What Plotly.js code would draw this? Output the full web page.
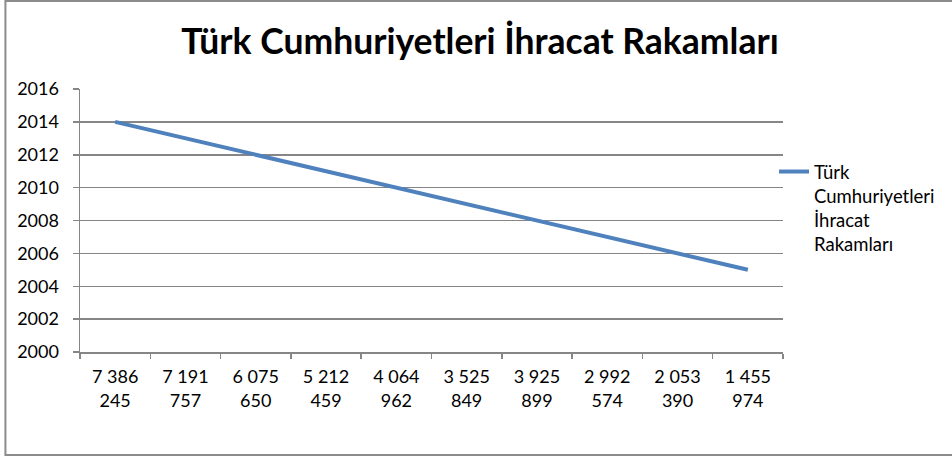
<!DOCTYPE html>
<html>
<head>
<meta charset="utf-8">
<script src="https://cdn.plot.ly/plotly-3.0.1.min.js"></script>
<style>html,body{margin:0;padding:0;background:#fff;}#chart{width:952px;height:457px;}</style>
</head>
<body>
<div id="chart"></div>
<script>
const categories = ["7 386 245","7 191 757","6 075 650","5 212 459","4 064 962","3 525 849","3 925 899","2 992 574","2 053 390","1 455 974"];
const tickLabels = ["7 386<br>245","7 191<br>757","6 075<br>650","5 212<br>459","4 064<br>962","3 525<br>849","3 925<br>899","2 992<br>574","2 053<br>390","1 455<br>974"];
const years = [2014,2013,2012,2011,2010,2009,2008,2007,2006,2005];
const seriesName = "Türk<br>Cumhuriyetleri<br>İhracat<br>Rakamları";
const titleText = "Türk Cumhuriyetleri İhracat Rakamları";

const FONT = "Lato, 'Open Sans', sans-serif";
const L = 80, R = 787, T = 89, B = 352, W = 952, H = 457;
const pw = R - L, ph = B - T;

const trace = {
  type: "scatter", mode: "lines",
  x: categories, y: years,
  name: seriesName,
  line: {color: "#4F81BD", width: 4},
  showlegend: true
};

const layout = {
  width: W, height: H,
  margin: {l: L, r: W - R, t: T, b: H - B, pad: 0},
  paper_bgcolor: "#fff", plot_bgcolor: "#fff",
  font: {family: FONT, color: "#000", size: 18},
  title: {text: "<b>" + titleText + "</b>", font: {family: FONT, size: 35.5, color: "#000"},
          x: 480 / W, xanchor: "center", y: 1 - 42 / H, yanchor: "middle"},
  xaxis: {
    type: "category", tickmode: "array", tickvals: categories, ticktext: tickLabels,
    tickson: "boundaries", ticks: "outside", ticklen: 5, tickcolor: "#868686", tickwidth: 1.5,
    showline: true, linecolor: "#868686", linewidth: 1.5, showgrid: false,
    tickfont: {family: FONT, size: 18, color: "#000"},
    ticklabelstandoff: 8,
    range: [-0.5, 9.5], fixedrange: true, automargin: false
  },
  yaxis: {
    range: [2000, 2016], dtick: 2, tick0: 2000,
    ticks: "outside", ticklen: 6, tickcolor: "#868686", tickwidth: 1.5,
    showline: true, linecolor: "#868686", linewidth: 1.5,
    showgrid: true, gridcolor: "#868686", gridwidth: 1.5, zeroline: false,
    tickfont: {family: FONT, size: 18, color: "#000"},
    ticklabelstandoff: 10,
    tickformat: "d", fixedrange: true, automargin: false
  },
  legend: {
    x: (778 - L) / pw, xanchor: "left",
    y: (B - 153) / ph, yanchor: "top",
    valign: "top",
    font: {family: FONT, size: 18.5, color: "#000"},
    bgcolor: "rgba(0,0,0,0)", borderwidth: 0
  },
  shapes: [{
    type: "rect", xref: "paper", yref: "paper",
    x0: (5 - L) / pw, x1: (965 - L) / pw,
    y0: (B - 455) / ph, y1: (B - 1) / ph,
    line: {color: "#8c8c8c", width: 2}, fillcolor: "rgba(0,0,0,0)", layer: "below"
  }]
};

Plotly.newPlot("chart", [trace], layout, {displayModeBar: false, staticPlot: true});
</script>
</body>
</html>
